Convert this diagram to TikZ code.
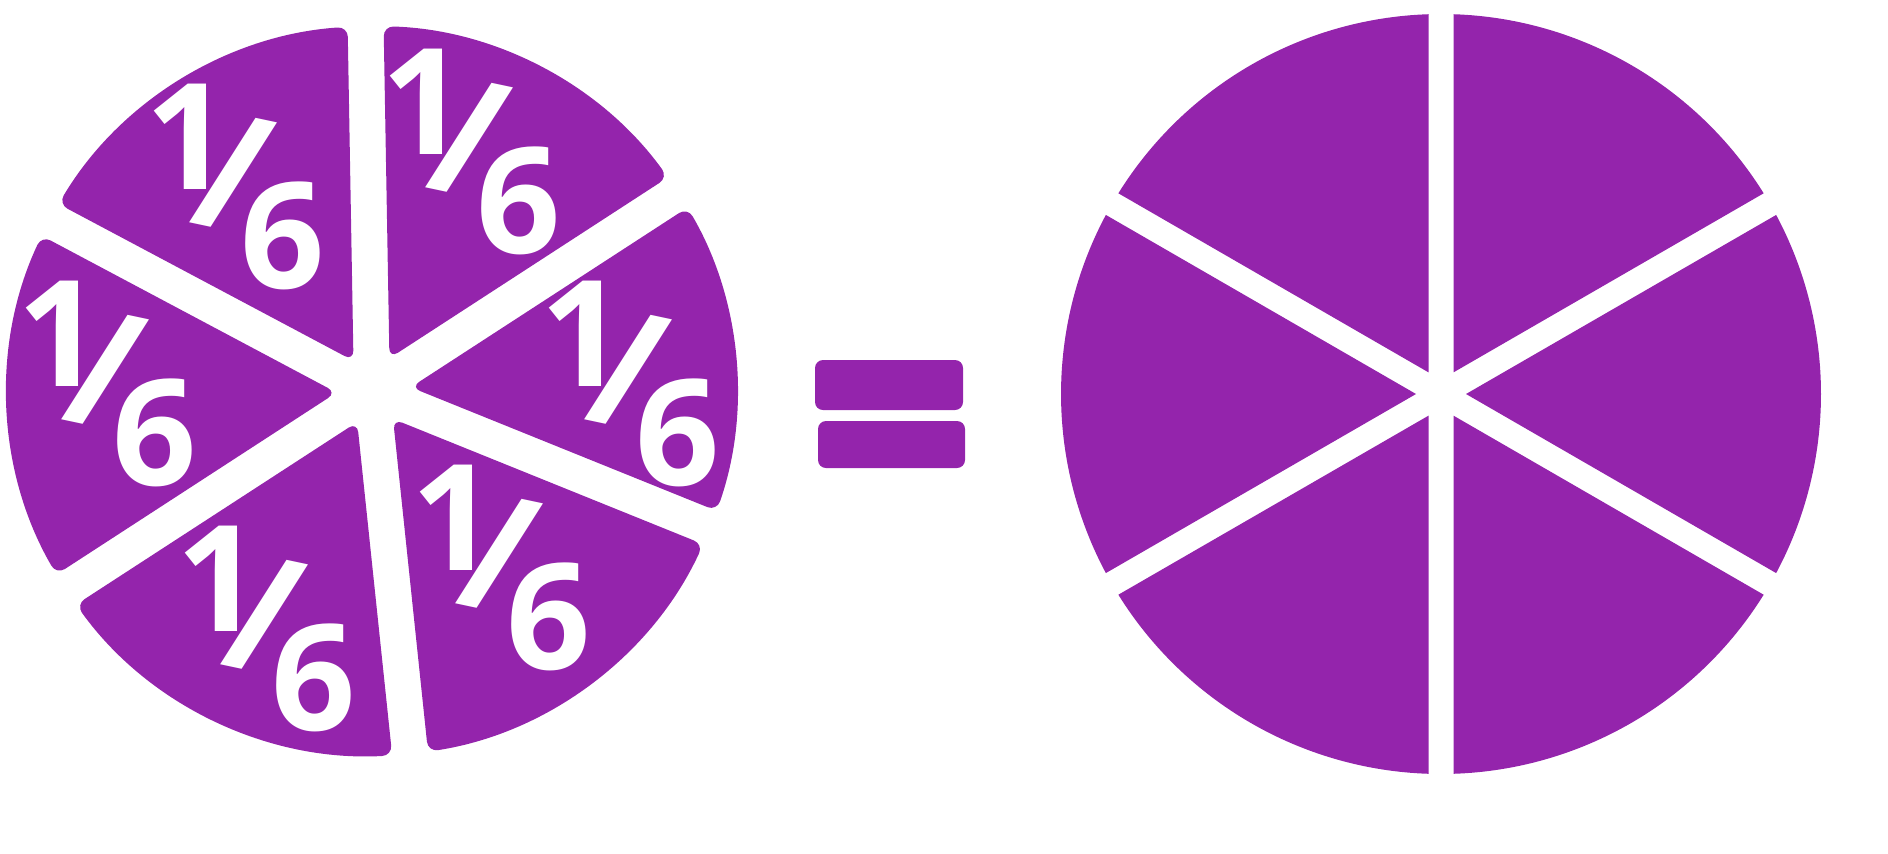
\documentclass[tikz,border=0pt]{standalone}
\usepackage{fontspec}
\newfontfamily\digitfont{Open Sans}
\usetikzlibrary{calc}
\definecolor{piepurple}{HTML}{9424AC}
% 1, slash and 6 set diagonally, as on the pieces
\newcommand{\onesixth}{%
  \makebox[0pt]{\raisebox{0.67em}{1}}\kern0.31em
  \makebox[0pt]{\raisebox{0.39em}{\rotatebox[origin=c]{-12}{\scalebox{1.1}{/}}}}\kern0.33em
  \makebox[0pt]{6}}

\begin{document}
\begin{tikzpicture}[x=0.01cm, y=0.01cm,
  piece/.style={fill=piepurple, rounded corners=0.1cm},
  wedge/.style={fill=piepurple},
  bar/.style={fill=piepurple, rounded corners=0.08cm},
  sixth/.style={text=white, inner sep=0pt, anchor=base west,
                font=\digitfont\bfseries\fontsize{42}{42}\selectfont}
]
  \useasboundingbox (0,0) rectangle (1888,853);

  % left pie, cut apart into six pieces
  \coordinate (lc) at (372,462);
  \foreach \a/\b in {33/91, 91/152, 152/213, 213/276, 276/338, 338/393}
    \fill[piece] ($(lc)+({(\a+\b)/2}:{18/sin((\b-\a)/2)})$)
      -- ($(lc)+({\a+asin(18/365)}:365)$)
      arc[start angle={\a+asin(18/365)}, end angle={\b-asin(18/365)}, radius=365]
      -- cycle;

  % one sixth on every piece
  \foreach \x/\y [count=\i] in {483/700, 247/665, 119/468, 278/223, 513/284, 642/468}
    \node[sixth] (sixth\i) at ($(\x,\y)+(-60,-100)$) {\onesixth};

  % equals sign
  \fill[bar] (815,443) rectangle (963,493);
  \fill[bar] (818,385) rectangle (965,432);

  % whole circle, six sectors
  \coordinate (rc) at (1441,459);
  \foreach \a in {30,90,...,330}
    \fill[wedge] ($(rc)+({\a+30}:25)$)
      -- ($(rc)+({\a+asin(12.5/380)}:380)$)
      arc[start angle={\a+asin(12.5/380)}, end angle={\a+60-asin(12.5/380)}, radius=380]
      -- cycle;
\end{tikzpicture}
\end{document}
